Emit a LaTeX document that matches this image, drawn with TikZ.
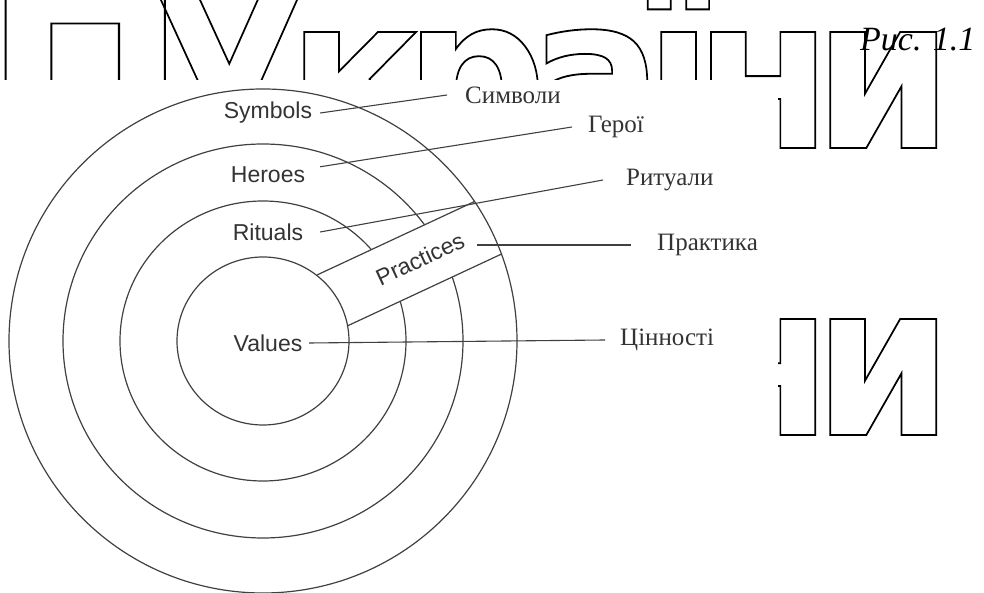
\documentclass[tikz,border=0pt]{standalone}
\usepackage{fontspec}
\usepackage{graphicx}
\setmainfont{Liberation Serif}
\setsansfont{Liberation Sans}
\newfontfamily\stampfont{DejaVu Sans}[LetterSpace=-9.3]
\usetikzlibrary{positioning}

% outlined glyphs (stroke only)
\newcommand\hollow[1]{\special{pdf:literal direct q 1 Tr 1.8 w 0 G}#1\special{pdf:literal direct Q}}

\tikzset{
  ring/.style={draw=black!75, line width=1.2pt},
  lead/.style={draw=black!75, line width=1.1pt},
  enlabel/.style={font=\sffamily\fontsize{23}{23}\selectfont, text=black!80, inner sep=0pt, minimum width=104pt},
  ualabel/.style={font=\fontsize{25}{25}\selectfont, text=black!80, anchor=west, inner ysep=0pt, inner xsep=16pt},
  stamp/.style={font=\stampfont\bfseries\fontsize{212}{212}\selectfont, anchor=base west, inner sep=0pt}
}

\begin{document}
\begin{tikzpicture}[x=1pt,y=1pt]
  \useasboundingbox (-263,-252) rectangle (721,341);

  % faint stamp behind the figure
  \begin{scope}
    \clip (-263,261) rectangle (515,341) (515,-252) rectangle (721,341);
    \foreach \y [count=\i] in {193,-94} {
      \node[stamp] (stampa\i) at (-280,\y) {\scalebox{1.15}[1]{\hollow{П}}};
      \node[stamp] (stampb\i) at (-111,\y) {\scalebox{0.94}[1]{\hollow{України}}};
    }
  \end{scope}

  % onion layers
  \draw[ring] (0,0) ellipse [x radius=143, y radius=140];
  \draw[ring] (0,0) ellipse [x radius=200, y radius=197];
  \fill[white, rotate=25] (80,-22) -- (251,-22) -- (249,37) -- (75,37) -- cycle;
  \draw[ring] (0,0) ellipse [x radius=86, y radius=84];
  \draw[ring] (0,0) ellipse [x radius=254, y radius=252];
  \draw[ring, rotate=25] (82.7,-22) -- (252.6,-22);
  \draw[ring, rotate=25] (77.2,37) -- (250.9,37);

  \node[enlabel] (sym) at (5,228) {Symbols};
  \node[enlabel] (heroes) at (5,166) {Heroes};
  \node[enlabel] (rituals) at (5,109) {Rituals};
  \node[enlabel, minimum width=82pt] (values) at (5,-2) {Values};
  \node[enlabel, minimum width=0pt, rotate=25] (prac) at (157,82) {Practices};

  \node[ualabel, inner xsep=18pt] (symua) at (184,246) {Символи};
  \node[ualabel] (heroua) at (309,214) {Герої};
  \node[ualabel, inner xsep=23pt] (ritua) at (340,161) {Ритуали};
  \node[ualabel, inner xsep=26pt] (pracua) at (368,96) {Практика};
  \node[ualabel, inner xsep=15pt] (valua) at (342,1) {Цінності};
  \node[anchor=west, inner sep=0pt, font=\itshape\fontsize{34}{34}\selectfont] (fig) at (597,301) {Рис. 1.1};

  \draw[lead] (sym.east) -- (symua.west);
  \draw[lead] (heroes.north east) -- (heroua.west);
  \draw[lead] (rituals.east) -- (ritua.west);
  \draw[lead, shorten <=14pt] (prac.east |- pracua.west) -- (pracua.west);
  \draw[lead] (values.east) -- (valua.west);
\end{tikzpicture}
\end{document}
